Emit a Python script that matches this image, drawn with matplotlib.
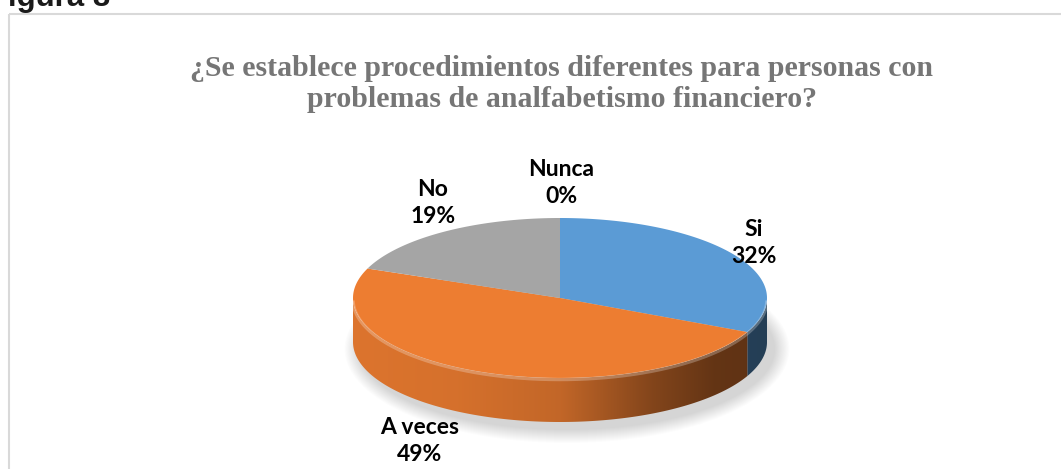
import numpy as np
import matplotlib.pyplot as plt
from matplotlib.colors import to_rgb
from matplotlib.patches import Polygon, Rectangle, Ellipse

# data
categorias = ["Si", "A veces", "No", "Nunca"]
porcentajes = [32, 49, 19, 0]
colores = ["#5B9BD5", "#ED7D31", "#A5A5A5", "#FFC000"]
titulo = "¿Se establece procedimientos diferentes para personas con\nproblemas de analfabetismo financiero?"

# layout (pixels)
W, H = 1061, 469
cx, cy, rx, ry, depth = 560, 298, 207, 80, 44
label_pos = [(754, 243), (420, 441), (433, 203), (561, 183)]

fig = plt.figure(figsize=(W / 100, H / 100), dpi=100)
ax = fig.add_axes([0, 0, 1, 1])
ax.set_xlim(0, W)
ax.set_ylim(H, 0)
ax.axis("off")

# chart frame
ax.add_patch(Rectangle((9, 14), W + 20, H, fill=False, ec="#D9D9D9", lw=1.5))
ax.text(8, 6, "igura 8", fontsize=22.5, fontweight="bold", family="Liberation Sans",
        va="baseline", ha="left", color="#1a1a1a")
ax.text(562, 84, titulo, fontsize=21.5, fontweight="bold", family="Liberation Serif",
        color="#767676", ha="center", va="center", linespacing=1.15)


def ellipse_pt(theta_deg, dy=0.0):
    t = np.radians(theta_deg)
    return cx + rx * np.sin(t), cy - ry * np.cos(t) + dy


# soft shadow under the pie
for k in range(14):
    grow = 14 - k
    ax.add_patch(Ellipse((cx + 7, cy + depth + 7), 2 * rx + grow * 2.2, 2 * ry + grow * 2.0,
                         color="#000000", alpha=0.012, lw=0))

# angles (clockwise from 12 o'clock)
bounds = np.concatenate([[0], np.cumsum(porcentajes)]) / sum(porcentajes) * 360


def shade(x):
    s = (x - cx) / rx
    return np.interp(s, [-1, -0.5, 0, 0.45, 0.75, 1], [0.93, 0.9, 0.82, 0.55, 0.42, 0.4])


xs = np.linspace(cx - rx, cx + rx, 500)
fac = shade(xs)

# visible side wall (front half: 90..270 deg)
for i in range(len(categorias)):
    a0, a1 = max(bounds[i], 90), min(bounds[i + 1], 270)
    if a1 <= a0:
        continue
    th = np.linspace(a0, a1, 200)
    top = np.array([ellipse_pt(t) for t in th])
    bot = np.array([ellipse_pt(t, depth) for t in th])[::-1]
    poly = Polygon(np.vstack([top, bot]), closed=True, fc="none", ec="none")
    ax.add_patch(poly)
    base = np.array(to_rgb(colores[i]))
    img = (fac[:, None] * base[None, :])[None, :, :]
    im = ax.imshow(img, extent=(cx - rx, cx + rx, cy + ry + depth + 2, cy - 2),
                   aspect="auto", interpolation="bilinear", zorder=2)
    im.set_clip_path(poly)

# top face
for i in range(len(categorias)):
    if bounds[i + 1] - bounds[i] <= 0:
        continue
    th = np.linspace(bounds[i], bounds[i + 1], 200)
    pts = np.array([ellipse_pt(t) for t in th])
    pts = np.vstack([[cx, cy], pts])
    ax.add_patch(Polygon(pts, closed=True, fc=colores[i], ec="none", zorder=3))

# light rim on the front edge
th = np.linspace(92, 268, 200)
rim = np.array([ellipse_pt(t, 1.5) for t in th])
ax.plot(rim[:, 0], rim[:, 1], color="white", alpha=0.25, lw=2.5, zorder=4)

# data labels
for (lx, ly), cat, val in zip(label_pos, categorias, porcentajes):
    ax.text(lx, ly, f"{cat}\n{val}%", fontsize=16.5, fontweight="bold", family="Lato",
            ha="center", va="center", color="black", linespacing=1.35, zorder=6)

ax.set_xlim(0, W)
ax.set_ylim(H, 0)
fig.savefig("out.png", dpi=100)
